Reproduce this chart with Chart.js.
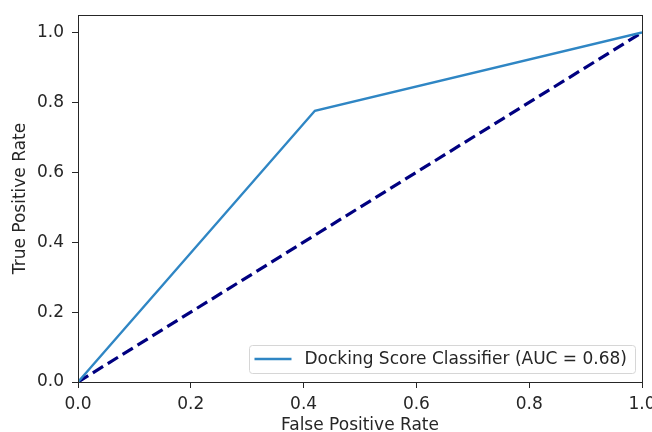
<!DOCTYPE html>
<html>
<head>
<meta charset="utf-8">
<script src="https://cdn.jsdelivr.net/npm/chart.js@4/dist/chart.umd.min.js"></script>
<style>
  html, body { margin: 0; padding: 0; background: #fff; }
  #wrap { width: 652px; height: 432px; position: relative; }
</style>
</head>
<body>
<div id="wrap"><canvas id="roc" width="652" height="432"></canvas></div>
<script>
// ROC curve points (false positive rate vs true positive rate)
const fpr = [0.0, 0.42, 1.0];
const tpr = [0.0, 0.776, 1.0];
// Chance diagonal
const chanceFpr = [0.0, 1.0];
const chanceTpr = [0.0, 1.0];
// Axis ticks
const xTickValues = [0.0, 0.2, 0.4, 0.6, 0.8, 1.0];
const yTickValues = [0.0, 0.2, 0.4, 0.6, 0.8, 1.0];
const rocLabel = 'Docking Score Classifier (AUC = 0.68)';

const FONT = 'DejaVu Sans';
const FS = 17;
const TEXT = '#262626';
const SPINE = '#262626';

const toPoints = (xs, ys) => xs.map((x, i) => ({ x: x, y: ys[i] }));

// Draws the top/right spines and the legend box in the lower-right corner
const framePlugin = {
  id: 'frame',
  afterDatasetsDraw(chart) {
    const { ctx, chartArea: a } = chart;
    ctx.save();
    ctx.strokeStyle = SPINE;
    ctx.lineWidth = 1;
    ctx.strokeRect(Math.round(a.left) + 0.5, Math.round(a.top) + 0.5,
                   Math.round(a.right - a.left), Math.round(a.bottom - a.top));

    // legend
    const ds = chart.data.datasets[0];
    ctx.font = FS + 'px "' + FONT + '"';
    const tw = ctx.measureText(ds.label).width;
    const handle = 37, gapL = 5, gapMid = 13, gapR = 8, h = 28;
    const w = gapL + handle + gapMid + tw + gapR;
    const x1 = a.right - 7, y1 = a.bottom - 9;
    const x0 = x1 - w, y0 = y1 - h;
    ctx.beginPath();
    ctx.roundRect(Math.round(x0) + 0.5, Math.round(y0) + 0.5, Math.round(w), h, 3);
    ctx.fillStyle = 'rgba(255,255,255,0.8)';
    ctx.fill();
    ctx.strokeStyle = '#d6d6d6';
    ctx.lineWidth = 1;
    ctx.stroke();
    const cy = y0 + h / 2;
    ctx.beginPath();
    ctx.moveTo(x0 + gapL, cy);
    ctx.lineTo(x0 + gapL + handle, cy);
    ctx.strokeStyle = ds.borderColor;
    ctx.lineWidth = ds.borderWidth;
    ctx.stroke();
    ctx.fillStyle = TEXT;
    ctx.textBaseline = 'middle';
    ctx.textAlign = 'left';
    ctx.fillText(ds.label, x0 + gapL + handle + gapMid, cy + 0.5);
    ctx.restore();
  }
};

new Chart(document.getElementById('roc'), {
  type: 'scatter',
  data: {
    datasets: [
      {
        label: rocLabel,
        data: toPoints(fpr, tpr),
        showLine: true,
        borderColor: '#2f86c4',
        borderWidth: 2.4,
        pointRadius: 0,
        fill: false,
        tension: 0
      },
      {
        label: 'chance',
        data: toPoints(chanceFpr, chanceTpr),
        showLine: true,
        borderColor: '#000080',
        borderWidth: 3.2,
        borderDash: [12, 5.5],
        borderCapStyle: 'butt',
        pointRadius: 0,
        fill: false
      }
    ]
  },
  options: {
    responsive: false,
    animation: false,
    layout: { padding: { top: 15, right: 10, left: 0, bottom: 0 } },
    plugins: {
      legend: { display: false },
      tooltip: { enabled: false }
    },
    scales: {
      x: {
        type: 'linear',
        min: 0, max: 1,
        afterBuildTicks(s) { s.ticks = xTickValues.map(v => ({ value: v })); },
        afterFit(s) { s.height = 50; s.paddingRight = 0; s.paddingLeft = 0; },
        grid: { drawOnChartArea: false, drawTicks: true, tickLength: 6, color: SPINE, lineWidth: 1 },
        border: { display: true, color: SPINE, width: 1 },
        ticks: {
          padding: 6,
          color: TEXT,
          font: { family: FONT, size: FS },
          maxRotation: 0,
          callback: v => Number(v).toFixed(1)
        },
        title: {
          display: true,
          text: 'False Positive Rate',
          color: TEXT,
          font: { family: FONT, size: FS },
          padding: { top: 0, bottom: -4 }
        }
      },
      y: {
        type: 'linear',
        min: 0, max: 1.05,
        afterBuildTicks(s) { s.ticks = yTickValues.map(v => ({ value: v })); },
        afterFit(s) { s.width = 78; s.paddingTop = 0; s.paddingBottom = 0; },
        grid: { drawOnChartArea: false, drawTicks: true, tickLength: 6, color: SPINE, lineWidth: 1 },
        border: { display: true, color: SPINE, width: 1 },
        ticks: {
          padding: 8,
          color: TEXT,
          font: { family: FONT, size: FS },
          callback: v => Number(v).toFixed(1)
        },
        title: {
          display: true,
          text: 'True Positive Rate',
          color: TEXT,
          font: { family: FONT, size: FS },
          padding: { top: 10, bottom: 0 }
        }
      }
    }
  },
  plugins: [framePlugin]
});
</script>
</body>
</html>
